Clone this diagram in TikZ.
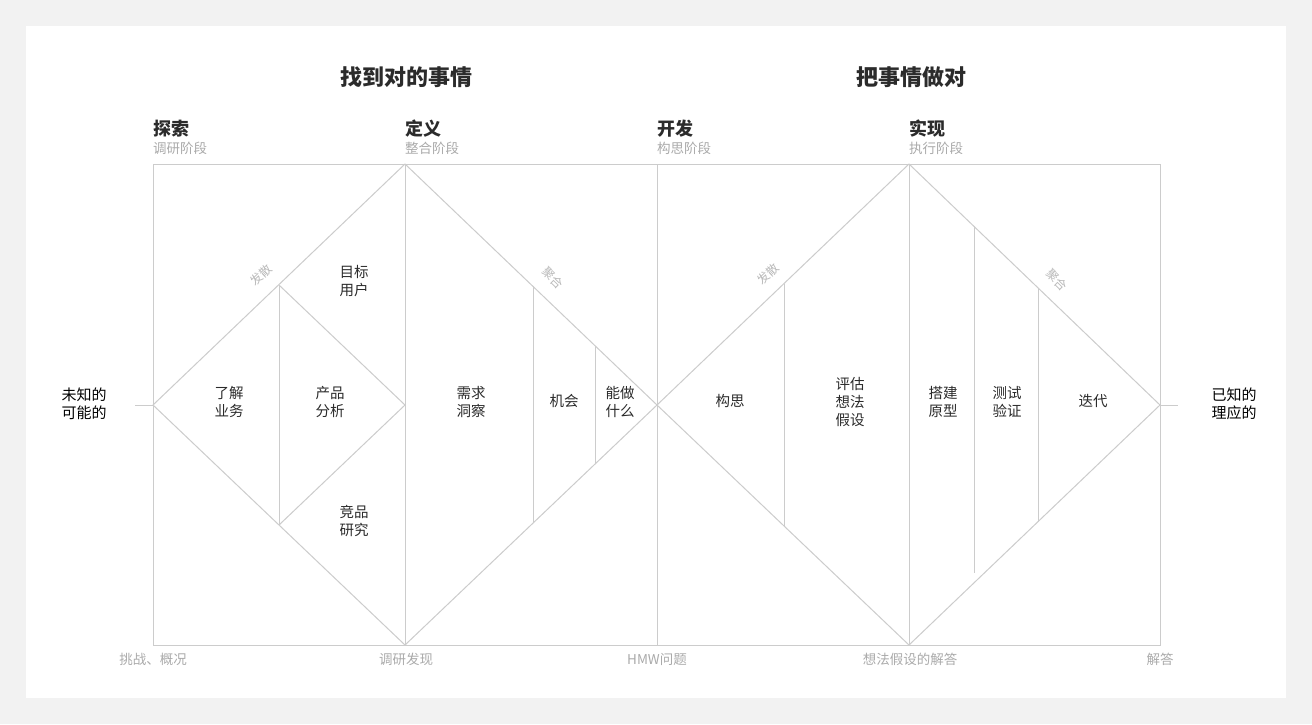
\documentclass[tikz,border=0pt]{standalone}
\usepackage{fontspec}
\setmainfont{Noto Sans CJK SC}
\definecolor{bgc}{HTML}{F2F2F2}
\definecolor{linec}{HTML}{CCCCCC}
\definecolor{txt}{HTML}{2B2B2B}
\definecolor{subt}{HTML}{AAAAAA}
\definecolor{diag}{HTML}{B8B8B8}
\begin{document}
\begin{tikzpicture}[x=1pt,y=-1pt,
  ln/.style={draw=linec,line width=1pt},
  title/.style={font=\fontsize{22}{26}\selectfont\bfseries,text=txt,inner sep=0pt},
  phase/.style={font=\fontsize{18}{21}\selectfont\bfseries,text=txt,anchor=west,inner sep=0pt},
  phsub/.style={font=\fontsize{13.5}{16}\selectfont,text=subt,anchor=west,inner sep=0pt},
  inner/.style={font=\fontsize{14.5}{18}\selectfont,text=txt,align=center,inner sep=0pt},
  side/.style={font=\fontsize{15}{18.5}\selectfont,text=black,align=left,inner sep=0pt},
  bot/.style={font=\fontsize{13.5}{16}\selectfont,text=subt,inner sep=0pt},
  dlab/.style={font=\fontsize{12}{13}\selectfont,text=diag,inner sep=0pt}]
\useasboundingbox (0,0) rectangle (1312,724);
\fill[bgc] (0,0) rectangle (1312,724);
\fill[white] (26,26) rectangle (1286,698);

% key coordinates
\coordinate (L) at (153,405);
\coordinate (T1) at (405,164);
\coordinate (B1) at (405,645);
\coordinate (M) at (657,405);
\coordinate (T2) at (909,164);
\coordinate (B2) at (909,645);
\coordinate (R) at (1160,405);
\coordinate (TL) at (153,164);
\coordinate (BR) at (1160,645);
\coordinate (Lout) at (135,405);
\coordinate (Rout) at (1178,405);

% frame and verticals
\draw[ln] (TL) rectangle (BR);
\draw[ln] (T1) -- (B1);
\draw[ln] (657,164) -- (657,645);
\draw[ln] (T2) -- (B2);
\draw[ln] (Lout) -- (L);
\draw[ln] (R) -- (Rout);

% diamonds
\draw[ln] (L) -- (T1) -- (M) -- (B1) -- cycle;
\draw[ln] (M) -- (T2) -- (R) -- (B2) -- cycle;

% inner lines, diamond 1
\coordinate (a1) at (279,285);
\coordinate (a2) at (279,525);
\coordinate (a3) at (405,405);
\draw[ln] (a1) -- (a2);
\draw[ln] (a1) -- (a3) -- (a2);
\draw[ln] (533,286) -- (533,523);
\draw[ln] (595,346) -- (595,464);

% inner lines, diamond 2
\draw[ln] (784,284) -- (784,526);
\draw[ln] (974,226) -- (974,573);
\draw[ln] (1038,288) -- (1038,522);

% titles
\node[title] (t1) at (406,77) {找到对的事情};
\node[title] (t2) at (911,77) {把事情做对};

% phases
\node[phase] (p1) at (153,129) {探索};
\node[phsub] (s1) at (153,148) {调研阶段};
\node[phase] (p2) at (405,129) {定义};
\node[phsub] (s2) at (405,148) {整合阶段};
\node[phase] (p3) at (657,129) {开发};
\node[phsub] (s3) at (657,148) {构思阶段};
\node[phase] (p4) at (909,129) {实现};
\node[phsub] (s4) at (909,148) {执行阶段};

% sides
\node[side] (lside) at (84,404) {未知的\\可能的};
\node[side] (rside) at (1234,404) {已知的\\理应的};

% bottom
\node[bot] (b1) at (153,659) {挑战、概况};
\node[bot] (b2) at (406,659) {调研发现};
\node[bot] (b3) at (657,659) {HMW问题};
\node[bot] (b4) at (910,659) {想法假设的解答};
\node[bot] (b5) at (1160,659) {解答};

% inner labels
\node[inner] (n1) at (229,402) {了解\\业务};
\node[inner] (n2) at (330,402) {产品\\分析};
\node[inner] (n3) at (354,281) {目标\\用户};
\node[inner] (n4) at (354,521) {竞品\\研究};
\node[inner] (n5) at (471,402) {需求\\洞察};
\node[inner] (n6) at (564,401) {机会};
\node[inner] (n7) at (620,402) {能做\\什么};
\node[inner] (n8) at (730,401) {构思};
\node[inner] (n9) at (850,402) {评估\\想法\\假设};
\node[inner] (n10) at (943,402) {搭建\\原型};
\node[inner] (n11) at (1007,402) {测试\\验证};
\node[inner] (n12) at (1093,401) {迭代};

% diagonal labels
\node[dlab,rotate=44] (d1) at (261,275) {发散};
\node[dlab,rotate=44] (d2) at (768,274) {发散};
\node[dlab,rotate=-44] (d3) at (553,278) {聚合};
\node[dlab,rotate=-44] (d4) at (1057,280) {聚合};
\end{tikzpicture}
\end{document}
